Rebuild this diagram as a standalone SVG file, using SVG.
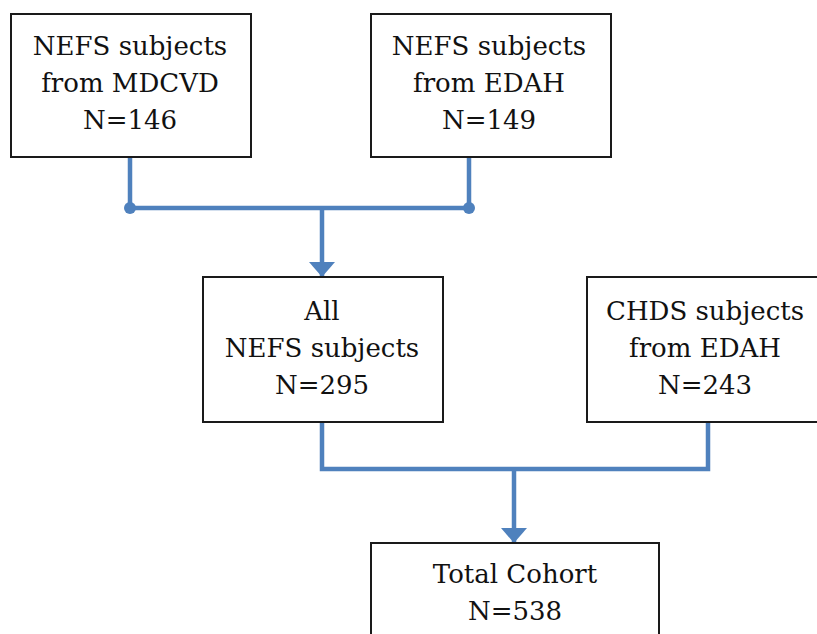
<svg xmlns="http://www.w3.org/2000/svg" width="817" height="634" viewBox="0 0 817 634">
<defs>
<style>
.box{fill:#fff;stroke:#1a1a1a;stroke-width:2}
.t{font-family:"DejaVu Serif","Liberation Serif",serif;font-size:26px;fill:#111;text-anchor:middle}
.c{fill:none;stroke:#4f81bd;stroke-width:4.5}
</style>
<marker id="ah" viewBox="0 0 15 26" refX="15" refY="13" markerWidth="15" markerHeight="26" markerUnits="userSpaceOnUse" orient="auto"><path d="M0,0L15,13L0,26z" fill="#4f81bd"/></marker>
</defs>
<g id="connectors">
<path class="c" d="M130,157V208H469V157"/>
<path class="c" d="M322,208V277" marker-end="url(#ah)"/>
<circle cx="130" cy="208" r="6" fill="#4f81bd"/>
<circle cx="469" cy="208" r="6" fill="#4f81bd"/>
<path class="c" d="M322,422V469H708V422"/>
<path class="c" d="M514,469V543" marker-end="url(#ah)"/>
</g>
<g id="n1"><rect class="box" x="11" y="14" width="240" height="143"/>
<text class="t" x="130" y="55">NEFS subjects</text><text class="t" x="130" y="92">from MDCVD</text><text class="t" x="130" y="129">N=146</text></g>
<g id="n2"><rect class="box" x="371" y="14" width="240" height="143"/>
<text class="t" x="489" y="55">NEFS subjects</text><text class="t" x="489" y="92">from EDAH</text><text class="t" x="489" y="129">N=149</text></g>
<g id="n3"><rect class="box" x="203" y="277" width="240" height="145"/>
<text class="t" x="322" y="320">All</text><text class="t" x="322" y="357">NEFS subjects</text><text class="t" x="322" y="394">N=295</text></g>
<g id="n4"><rect class="box" x="587" y="277" width="240" height="145"/>
<text class="t" x="705" y="320">CHDS subjects</text><text class="t" x="705" y="357">from EDAH</text><text class="t" x="705" y="394">N=243</text></g>
<g id="n5"><rect class="box" x="371" y="543" width="288" height="100"/>
<text class="t" x="515" y="583">Total Cohort</text><text class="t" x="515" y="620">N=538</text></g>
</svg>
